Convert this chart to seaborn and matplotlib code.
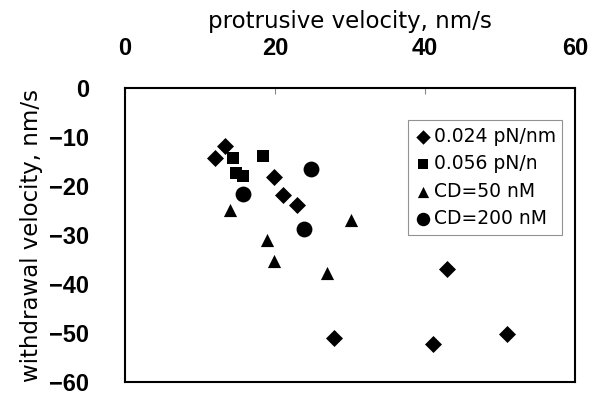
import matplotlib
matplotlib.use("Agg")
import matplotlib.pyplot as plt
import seaborn as sns
import pandas as pd

# protrusive (x) and withdrawal (y) velocities, nm/s
x_024 = [12.0, 13.3, 19.9, 21.1, 22.9, 42.9, 27.9, 41.0, 50.9]
y_024 = [-14.3, -11.8, -18.2, -21.8, -23.9, -36.9, -51.0, -52.2, -50.2]
x_056 = [14.4, 18.4, 14.8, 15.7]
y_056 = [-14.2, -13.9, -17.4, -18.0]
x_cd50 = [14.0, 18.9, 19.9, 30.1, 26.9]
y_cd50 = [-24.9, -31.0, -35.3, -27.0, -37.8]
x_cd200 = [24.8, 15.7, 23.8]
y_cd200 = [-16.5, -21.6, -28.8]

labels = ["0.024 pN/nm", "0.056 pN/n", "CD=50 nM", "CD=200 nM"]
xticks = [0, 20, 40, 60]
yticks = [0, -10, -20, -30, -40, -50, -60]

df = pd.concat([
    pd.DataFrame({"x": x_024, "y": y_024, "cond": labels[0]}),
    pd.DataFrame({"x": x_056, "y": y_056, "cond": labels[1]}),
    pd.DataFrame({"x": x_cd50, "y": y_cd50, "cond": labels[2]}),
    pd.DataFrame({"x": x_cd200, "y": y_cd200, "cond": labels[3]}),
], ignore_index=True)

sns.set_style("white", {"text.color": "black", "axes.labelcolor": "black",
                        "xtick.color": "black", "ytick.color": "black"})
plt.rcParams["font.family"] = ["Liberation Sans", "DejaVu Sans"]

fig = plt.figure(figsize=(5.96, 3.97), dpi=100)
ax = fig.add_axes([0.21, 0.038, 0.755, 0.74])

marker_map = {labels[0]: "D", labels[1]: "s", labels[2]: "^", labels[3]: "o"}
size_map = {labels[0]: 75, labels[1]: 80, labels[2]: 90, labels[3]: 130}
for lab in labels:
    sub = df[df["cond"] == lab]
    sns.scatterplot(data=sub, x="x", y="y", ax=ax, color="black",
                    marker=marker_map[lab], s=size_map[lab], linewidth=0,
                    label=lab)

ax.set_xlim(0, 60)
ax.set_ylim(-60, 0)
ax.set_xticks(xticks)
ax.set_yticks(yticks)
ax.set_yticklabels([str(v).replace("-", "\u2212") for v in yticks])
ax.xaxis.tick_top()
ax.xaxis.set_label_position("top")
ax.tick_params(axis="both", direction="in", length=4, width=0.8, color="#888888",
               labelcolor="black", labelsize=17)
ax.tick_params(axis="x", pad=20)
ax.tick_params(axis="y", pad=26)
for t in ax.get_xticklabels() + ax.get_yticklabels():
    t.set_fontweight("bold")
ax.set_xlabel("protrusive velocity, nm/s", fontsize=16.5, family="DejaVu Sans",
              labelpad=7, color="black")
ax.set_ylabel("withdrawal velocity, nm/s", fontsize=16.5, family="DejaVu Sans",
              labelpad=4, color="black")
for sp in ax.spines.values():
    sp.set_visible(True)
    sp.set_color("black")
    sp.set_linewidth(1.5)

leg = ax.legend(loc="upper left", bbox_to_anchor=(0.629, 0.891),
                prop={"family": "DejaVu Sans", "size": 13.5},
                frameon=True, fancybox=False, edgecolor="#777777",
                handletextpad=0.1, handlelength=0.9, borderpad=0.35,
                labelspacing=0.45, borderaxespad=0, markerscale=0.85,
                labelcolor="black")
leg.get_frame().set_linewidth(0.8)

fig.savefig("out.png", dpi=100)
